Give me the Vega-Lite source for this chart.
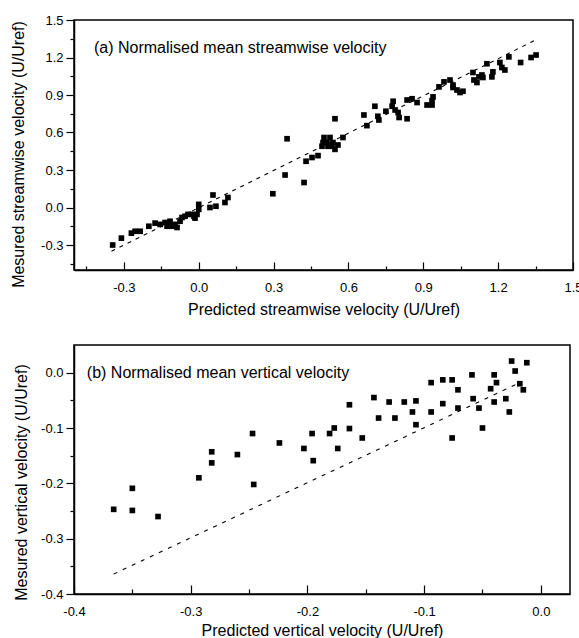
{
  "$schema": "https://vega.github.io/schema/vega-lite/v6.json",
  "padding": {"left": 9, "top": 13, "right": 5, "bottom": 5},
  "spacing": 26,
  "background": "white",
  "config": {
    "view": {"stroke": "black", "strokeWidth": 1.5},
    "axis": {
      "grid": false,
      "domainColor": "black",
      "domainWidth": 1.5,
      "tickColor": "black",
      "tickWidth": 1.2,
      "labelColor": "black",
      "titleColor": "black",
      "labelFont": "Liberation Sans",
      "titleFont": "Liberation Sans",
      "labelFontSize": 13,
      "titleFontSize": 16,
      "titleFontWeight": "normal"
    }
  },
  "datasets": {
    "topPoints": [
      {"x": -0.345, "y": -0.30}, {"x": -0.31, "y": -0.245}, {"x": -0.27, "y": -0.205}, {"x": -0.255, "y": -0.19},
      {"x": -0.235, "y": -0.19}, {"x": -0.20, "y": -0.15}, {"x": -0.175, "y": -0.125}, {"x": -0.155, "y": -0.135},
      {"x": -0.135, "y": -0.12}, {"x": -0.127, "y": -0.15}, {"x": -0.115, "y": -0.11}, {"x": -0.107, "y": -0.15},
      {"x": -0.095, "y": -0.135}, {"x": -0.087, "y": -0.16}, {"x": -0.075, "y": -0.11}, {"x": -0.067, "y": -0.08},
      {"x": -0.055, "y": -0.07}, {"x": -0.043, "y": -0.055}, {"x": -0.027, "y": -0.055}, {"x": -0.019, "y": -0.07},
      {"x": -0.015, "y": -0.085}, {"x": -0.007, "y": -0.055}, {"x": 0.0, "y": -0.015}, {"x": 0.0, "y": 0.025},
      {"x": 0.045, "y": 0.0}, {"x": 0.057, "y": 0.10}, {"x": 0.069, "y": 0.01}, {"x": 0.105, "y": 0.04},
      {"x": 0.117, "y": 0.08}, {"x": 0.297, "y": 0.11}, {"x": 0.346, "y": 0.26}, {"x": 0.354, "y": 0.55},
      {"x": 0.422, "y": 0.20}, {"x": 0.43, "y": 0.37}, {"x": 0.454, "y": 0.40}, {"x": 0.478, "y": 0.415},
      {"x": 0.494, "y": 0.49}, {"x": 0.502, "y": 0.56}, {"x": 0.514, "y": 0.52}, {"x": 0.526, "y": 0.56},
      {"x": 0.534, "y": 0.49}, {"x": 0.546, "y": 0.465}, {"x": 0.558, "y": 0.50}, {"x": 0.578, "y": 0.56},
      {"x": 0.498, "y": 0.52}, {"x": 0.518, "y": 0.49}, {"x": 0.538, "y": 0.52}, {"x": 0.546, "y": 0.71},
      {"x": 0.662, "y": 0.74}, {"x": 0.674, "y": 0.655}, {"x": 0.706, "y": 0.81}, {"x": 0.718, "y": 0.73},
      {"x": 0.722, "y": 0.70}, {"x": 0.75, "y": 0.77}, {"x": 0.775, "y": 0.81}, {"x": 0.779, "y": 0.85},
      {"x": 0.787, "y": 0.78}, {"x": 0.799, "y": 0.76}, {"x": 0.803, "y": 0.72}, {"x": 0.835, "y": 0.86},
      {"x": 0.835, "y": 0.71}, {"x": 0.855, "y": 0.87}, {"x": 0.875, "y": 0.84}, {"x": 0.915, "y": 0.82},
      {"x": 0.935, "y": 0.82}, {"x": 0.939, "y": 0.885}, {"x": 0.935, "y": 0.855}, {"x": 0.963, "y": 0.965},
      {"x": 0.983, "y": 1.005}, {"x": 1.007, "y": 1.02}, {"x": 1.019, "y": 0.98}, {"x": 1.019, "y": 0.96},
      {"x": 1.035, "y": 0.94}, {"x": 1.047, "y": 0.92}, {"x": 1.059, "y": 0.93}, {"x": 1.099, "y": 1.08},
      {"x": 1.103, "y": 1.02}, {"x": 1.115, "y": 1.0}, {"x": 1.123, "y": 1.045}, {"x": 1.135, "y": 1.06},
      {"x": 1.139, "y": 1.04}, {"x": 1.155, "y": 1.15}, {"x": 1.175, "y": 1.045}, {"x": 1.179, "y": 1.085},
      {"x": 1.207, "y": 1.16}, {"x": 1.215, "y": 1.12}, {"x": 1.227, "y": 1.10}, {"x": 1.243, "y": 1.205},
      {"x": 1.29, "y": 1.16}, {"x": 1.332, "y": 1.20}, {"x": 1.352, "y": 1.22}
    ],
    "topLine": [{"x": -0.35, "y": -0.35}, {"x": 1.35, "y": 1.34}],
    "topLabel": [{"x": -0.42, "y": 1.28, "label": "(a) Normalised mean streamwise velocity"}],
    "botPoints": [
      {"x": -0.366, "y": -0.247}, {"x": -0.35, "y": -0.209}, {"x": -0.35, "y": -0.249}, {"x": -0.328, "y": -0.26},
      {"x": -0.293, "y": -0.19}, {"x": -0.282, "y": -0.143}, {"x": -0.282, "y": -0.163}, {"x": -0.26, "y": -0.148},
      {"x": -0.247, "y": -0.11}, {"x": -0.246, "y": -0.202}, {"x": -0.224, "y": -0.127}, {"x": -0.203, "y": -0.137},
      {"x": -0.196, "y": -0.11}, {"x": -0.195, "y": -0.159}, {"x": -0.181, "y": -0.11}, {"x": -0.177, "y": -0.1},
      {"x": -0.174, "y": -0.137}, {"x": -0.164, "y": -0.058}, {"x": -0.164, "y": -0.101}, {"x": -0.153, "y": -0.118},
      {"x": -0.143, "y": -0.045}, {"x": -0.139, "y": -0.082}, {"x": -0.130, "y": -0.053}, {"x": -0.125, "y": -0.082},
      {"x": -0.117, "y": -0.053}, {"x": -0.11, "y": -0.071}, {"x": -0.107, "y": -0.051}, {"x": -0.107, "y": -0.094},
      {"x": -0.094, "y": -0.018}, {"x": -0.094, "y": -0.071}, {"x": -0.084, "y": -0.013}, {"x": -0.084, "y": -0.056},
      {"x": -0.076, "y": -0.013}, {"x": -0.076, "y": -0.118}, {"x": -0.071, "y": -0.031}, {"x": -0.071, "y": -0.064},
      {"x": -0.059, "y": -0.004}, {"x": -0.058, "y": -0.047}, {"x": -0.053, "y": -0.064}, {"x": -0.05, "y": -0.1},
      {"x": -0.043, "y": -0.029}, {"x": -0.040, "y": -0.004}, {"x": -0.040, "y": -0.053}, {"x": -0.038, "y": -0.018},
      {"x": -0.03, "y": -0.047}, {"x": -0.027, "y": -0.071}, {"x": -0.025, "y": 0.021}, {"x": -0.022, "y": 0.003},
      {"x": -0.018, "y": -0.02}, {"x": -0.015, "y": -0.031}, {"x": -0.012, "y": 0.018}
    ],
    "botLine": [{"x": -0.366, "y": -0.364}, {"x": -0.02, "y": -0.02}],
    "botLabel": [{"x": -0.389, "y": 0.0, "label": "(b) Normalised mean vertical velocity"}]
  },
  "vconcat": [
    {
      "width": 499,
      "height": 250,
      "encoding": {
        "x": {
          "field": "x", "type": "quantitative",
          "scale": {"domain": [-0.5, 1.5], "nice": false, "zero": false},
          "axis": {
            "title": "Predicted streamwise  velocity (U/Uref)",
            "values": [-0.45, -0.3, -0.15, 0, 0.15, 0.3, 0.45, 0.6, 0.75, 0.9, 1.05, 1.2, 1.35, 1.5],
            "labelExpr": "abs(datum.value/0.3 - round(datum.value/0.3)) < 0.01 ? replace(format(datum.value, '.1f'), '\u2212', '-') : ''",
            "tickSize": {"condition": {"test": "abs(datum.value/0.3 - round(datum.value/0.3)) < 0.01", "value": -8}, "value": -4},
            "labelPadding": 19,
            "labelBaseline": "top",
            "labelFlush": false,
            "labelOverlap": false,
            "titleY": 39,
            "titleBaseline": "middle"
          }
        },
        "y": {
          "field": "y", "type": "quantitative",
          "scale": {"domain": [-0.5, 1.5], "nice": false, "zero": false},
          "axis": {
            "title": "Mesured streamwise  velocity (U/Uref)",
            "values": [-0.45, -0.3, -0.15, 0, 0.15, 0.3, 0.45, 0.6, 0.75, 0.9, 1.05, 1.2, 1.35, 1.5],
            "labelExpr": "abs(datum.value/0.3 - round(datum.value/0.3)) < 0.01 ? replace(format(datum.value, '.1f'), '\u2212', '-') : ''",
            "tickSize": {"condition": {"test": "abs(datum.value/0.3 - round(datum.value/0.3)) < 0.01", "value": 8}, "value": 4},
            "labelPadding": 3,
            "labelFlush": false,
            "labelOverlap": false,
            "titleX": -56,
            "titleY": 134,
            "titleBaseline": "middle"
          }
        }
      },
      "layer": [
        {"data": {"name": "topLine"}, "mark": {"type": "line", "color": "black", "strokeWidth": 1.1, "strokeDash": [4, 5]}, "encoding": {}},
        {"data": {"name": "topPoints"}, "mark": {"type": "point", "shape": "square", "filled": true, "size": 32, "color": "black", "opacity": 1}, "encoding": {}},
        {"data": {"name": "topLabel"}, "mark": {"type": "text", "align": "left", "baseline": "middle", "fontSize": 16, "font": "Liberation Sans", "color": "black"}, "encoding": {"text": {"field": "label"}}}
      ]
    },
    {
      "width": 496,
      "height": 249,
      "encoding": {
        "x": {
          "field": "x", "type": "quantitative",
          "scale": {"domain": [-0.4, 0.025], "nice": false, "zero": false},
          "axis": {
            "title": "Predicted vertical velocity (U/Uref)",
            "values": [-0.4, -0.35, -0.3, -0.25, -0.2, -0.15, -0.1, -0.05, 0],
            "labelExpr": "abs(datum.value*10 - round(datum.value*10)) < 0.01 ? replace(format(datum.value, '.1f'), '\u2212', '-') : ''",
            "tickSize": {"condition": {"test": "abs(datum.value*10 - round(datum.value*10)) < 0.01", "value": -9}, "value": -5},
            "labelPadding": 20,
            "labelBaseline": "top",
            "labelFlush": false,
            "labelOverlap": false,
            "titleY": 36,
            "titleBaseline": "middle"
          }
        },
        "y": {
          "field": "y", "type": "quantitative",
          "scale": {"domain": [-0.4, 0.05], "nice": false, "zero": false},
          "axis": {
            "title": "Mesured vertical velocity (U/Uref)",
            "values": [-0.4, -0.35, -0.3, -0.25, -0.2, -0.15, -0.1, -0.05, 0],
            "labelExpr": "abs(datum.value*10 - round(datum.value*10)) < 0.01 ? replace(format(datum.value, '.1f'), '\u2212', '-') : ''",
            "tickSize": {"condition": {"test": "abs(datum.value*10 - round(datum.value*10)) < 0.01", "value": 8}, "value": 4},
            "labelPadding": 3,
            "labelFlush": false,
            "labelOverlap": false,
            "titleX": -53,
            "titleY": 137,
            "titleBaseline": "middle"
          }
        }
      },
      "layer": [
        {"data": {"name": "botLine"}, "mark": {"type": "line", "color": "black", "strokeWidth": 1.1, "strokeDash": [4, 6]}, "encoding": {}},
        {"data": {"name": "botPoints"}, "mark": {"type": "point", "shape": "square", "filled": true, "size": 32, "color": "black", "opacity": 1}, "encoding": {}},
        {"data": {"name": "botLabel"}, "mark": {"type": "text", "align": "left", "baseline": "middle", "fontSize": 16, "font": "Liberation Sans", "color": "black"}, "encoding": {"text": {"field": "label"}}}
      ]
    }
  ]
}
